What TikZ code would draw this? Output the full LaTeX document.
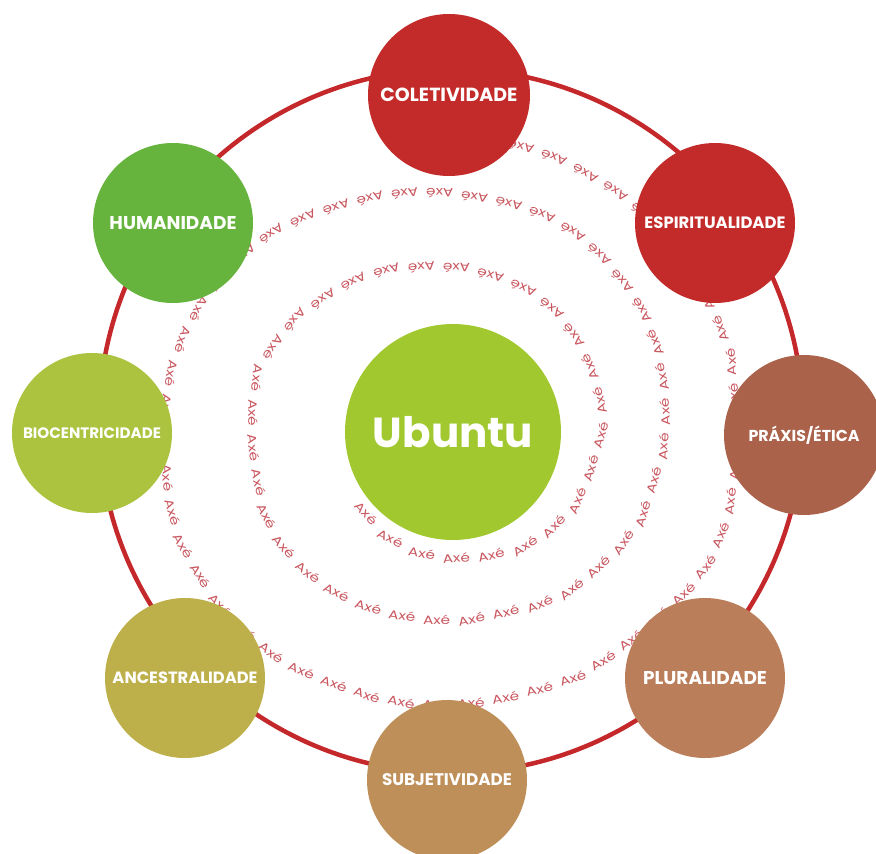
\documentclass[tikz,border=0pt]{standalone}
\usepackage{fontspec}
\usepackage{graphicx}
\setmainfont{Poppins}
\definecolor{ringred}{RGB}{196,40,42}
\definecolor{cred}{RGB}{195,43,42}
\definecolor{cpraxis}{RGB}{171,98,74}
\definecolor{cplural}{RGB}{186,126,90}
\definecolor{csubj}{RGB}{190,143,89}
\definecolor{cancest}{RGB}{189,176,75}
\definecolor{cbio}{RGB}{171,195,63}
\definecolor{chum}{RGB}{102,180,62}
\definecolor{cubuntu}{RGB}{161,201,47}
\definecolor{axecol}{RGB}{201,87,95}
\begin{document}
\begin{tikzpicture}[x=1pt,y=-1pt,
  ball/.style={circle, minimum size=160pt, inner sep=0pt, fill=#1, text=white, font=\bfseries},
  axeword/.style={inner sep=0pt, text=axecol, font=\fontsize{12}{12}\selectfont},
]
\useasboundingbox (0,0) rectangle (876,854);
% spiral of words: words every 35pt along a polyline
\gdef\axecarry{0}
\foreach \qx/\qy [remember=\qx as \px (initially 366), remember=\qy as \py (initially 513)] in {
 388/537, 420/553, 455/558, 490/555, 523/547, 552/528, 577/503,
 590/472, 601/435, 601/405, 592/372, 577/340, 555/312, 527/290, 495/277,
 462/268, 427/267, 390/270, 357/280, 327/297, 298/317, 277/343, 258/372,
 253/410, 253/443, 258/478, 265/512, 280/542, 302/568, 332/590, 362/605,
 397/615, 432/620, 467/620, 503/613, 537/605, 568/592, 597/568, 623/543,
 642/517, 653/483, 663/450, 665/417, 663/382, 655/343, 643/313, 625/285,
 602/258, 577/235, 547/217, 513/205, 480/198, 443/193, 410/193, 373/198,
 338/207, 305/218, 273/233, 248/252, 222/278, 200/308, 183/340, 172/372,
 166/410, 165/445, 168/480, 173/512, 183/545, 200/575, 218/603, 243/630,
 272/653, 300/670, 333/683, 367/695, 402/702, 437/705, 473/703, 507/697,
 543/688, 577/677, 607/658, 648/627, 685/592, 707/565, 722/532, 730/505,
 734/470, 736/435, 734/400, 731/357, 718/323, 703/292, 683/262, 658/232,
 630/202, 602/183, 564/162, 530/149, 498/142} {
  \pgfmathsetmacro\adx{\qx-\px}
  \pgfmathsetmacro\ady{\qy-\py}
  \pgfmathsetmacro\aL{veclen(\adx,\ady)}
  \pgfmathsetmacro\aang{atan2(-\ady,\adx)}
  \pgfmathtruncatemacro\anw{floor((\aL-\axecarry)/35)}
  \ifnum\anw>-1
    \foreach \k in {0,...,\anw} {
      \pgfmathsetmacro\as{\axecarry+35*\k}
      \node[axeword, rotate=\aang] at ({\px+\as*\adx/\aL},{\py+\as*\ady/\aL}) {\scalebox{1.28}[1]{Axé}};
    }
    \pgfmathsetmacro\anewcarry{\axecarry+35*(\anw+1)-\aL}
  \else
    \pgfmathsetmacro\anewcarry{\axecarry-\aL}
  \fi
  \xdef\axecarry{\anewcarry}
}
% outer ring
\coordinate (ringc) at (451,421);
\draw[ringred, line width=4.5pt] (ringc) circle[radius=352pt];
% circles
\node[ball=cred, minimum size=162pt] (col) at (449,95) {\resizebox{137pt}{!}{COLETIVIDADE}};
\node[ball=cred] (esp) at (715,223) {\resizebox{141pt}{!}{ESPIRITUALIDADE}};
\node[ball=cpraxis] (pra) at (804,435) {\resizebox{111pt}{!}{PRÁXIS/ÉTICA}};
\node[ball=cplural] (plu) at (705,678) {\resizebox{124pt}{!}{PLURALIDADE}};
\node[ball=csubj] (sub) at (447,780) {\resizebox{130pt}{!}{SUBJETIVIDADE}};
\node[ball=cancest] (anc) at (185,678) {\resizebox{145pt}{!}{ANCESTRALIDADE}};
\node[ball=cbio] (bio) at (92,433) {\resizebox{138pt}{!}{BIOCENTRICIDADE}};
\node[ball=chum] (hum) at (173,223) {\resizebox{127pt}{!}{HUMANIDADE}};
\node[ball=cubuntu, minimum size=216pt] (ubu) at (453,432) {\resizebox{160pt}{!}{Ubuntu}};
\end{tikzpicture}
\end{document}
